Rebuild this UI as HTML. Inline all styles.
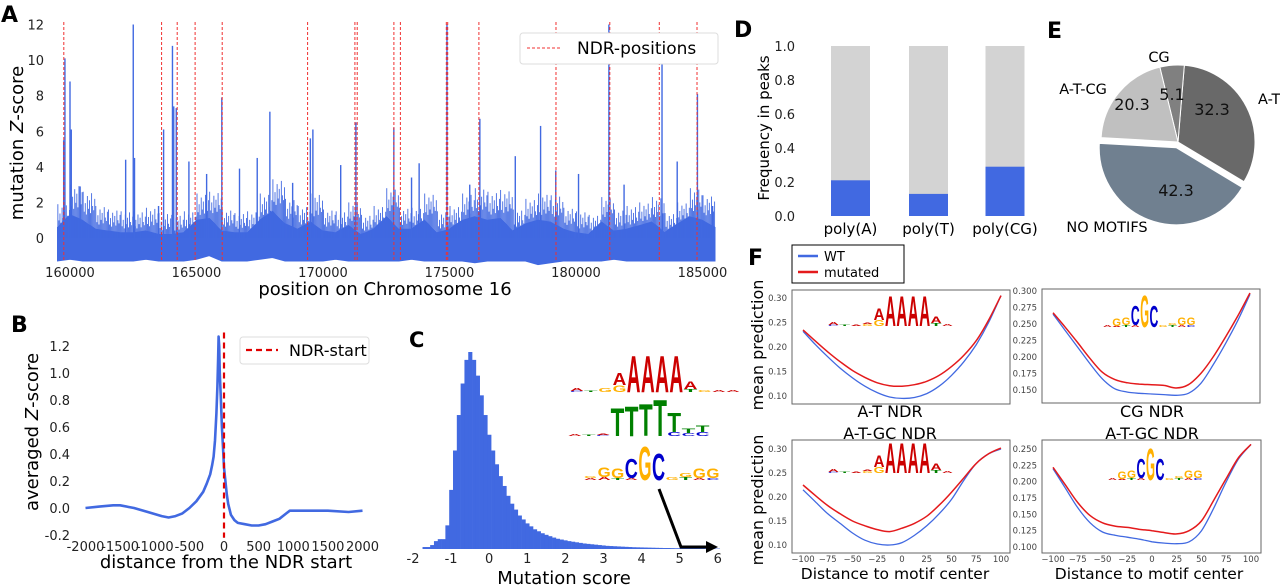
<!DOCTYPE html>
<html>
<head>
<meta charset="utf-8">
<style>
html,body{margin:0;padding:0;background:#fff;}
svg{display:block;font-family:"DejaVu Sans","Liberation Sans",sans-serif;}
</style>
</head>
<body>
<svg id="fig" width="1280" height="587" viewBox="0 0 1280 587" xmlns="http://www.w3.org/2000/svg">
  <text x="1" y="22" font-size="22" font-weight="bold">A</text>
  <text x="11" y="332" font-size="22" font-weight="bold">B</text>
  <text x="409" y="347" font-size="21" font-weight="bold">C</text>
  <text x="734" y="37" font-size="22" font-weight="bold">D</text>
  <text x="1047" y="38" font-size="22" font-weight="bold">E</text>
  <text x="748" y="265" font-size="22" font-weight="bold">F</text>
</svg>
<script>
// ---------- Panel A data ----------
const aTicksX = [160000,165000,170000,175000,180000,185000];
const aTicksY = [0,2,4,6,8,10,12];
const aNdrPositions = [159755,163620,164237,164945,166016,169391,171261,171352,172802,173059,174874,174929,176162,179209,181336,183292,184783];
const aBinStart = 159500;
const aBinStep = 500;
const aBinTops = [1.9,3.0,2.6,1.8,1.6,1.5,1.5,1.7,1.4,1.3,1.5,2.5,2.6,1.6,1.4,1.5,2.5,3.3,2.2,1.8,2.5,1.6,1.5,2.0,1.3,1.8,2.8,1.7,1.7,2.5,1.5,1.8,2.5,2.8,2.6,2.7,1.6,2.2,2.5,2.4,1.7,1.5,1.3,2.3,1.6,1.8,2.0,2.3,1.4,2.0,2.8,2.4,1.8];
const aBinDense = [0.6,1.3,1.0,0.5,0.4,0.3,0.3,0.4,0.2,0.2,0.3,1.0,1.1,0.4,0.3,0.3,1.0,1.5,0.8,0.5,0.9,0.4,0.3,0.7,0.2,0.5,1.2,0.5,0.5,1.0,0.3,0.5,1.0,1.2,1.0,1.1,0.4,0.8,1.0,0.9,0.5,0.3,0.2,0.9,0.4,0.5,0.7,0.9,0.3,0.8,1.2,1.0,0.6];
const aBinLows = [-1.3,-1.2,-1.3,-1.3,-1.3,-1.3,-1.3,-1.2,-1.3,-1.3,-1.3,-1.2,-1.0,-1.3,-1.3,-1.3,-1.2,-1.1,-1.3,-1.3,-1.3,-1.3,-1.2,-1.3,-1.3,-1.3,-1.3,-1.3,-1.2,-1.3,-1.3,-1.3,-1.3,-1.4,-1.3,-1.3,-1.3,-1.3,-1.5,-1.4,-1.3,-1.3,-1.3,-1.3,-1.2,-1.3,-1.3,-1.3,-1.3,-1.3,-1.3,-1.3,-1.3];
const aSpikePos = [159800,159750,160000,160050,160400,162200,162500,162550,163500,163700,164050,164100,164200,164700,165400,166000,166700,167400,167900,168800,169500,169600,170700,171300,172800,173500,173800,174900,175800,176200,177600,178600,179200,180100,181300,181900,183400,184000,184800,185400];
const aSpikeVal = [10.1,5.5,8.8,6.1,2.9,4.4,12,4.5,1.8,6.1,10.8,7.4,7.3,4.3,3.6,7.9,3.9,4.5,7.1,3.1,5.6,6.1,4.1,6.5,6.2,3.4,4.2,12,3.0,6.7,4.6,6.3,3.8,3.6,12,3.0,10,4.3,8.1,1.8];

// ---------- Panel B data ----------
const bTicksX = [-2000,-1500,-1000,-500,0,500,1000,1500,2000];
const bTicksY = [-0.2,0.0,0.2,0.4,0.6,0.8,1.0,1.2];
const bDist = [-2000,-1800,-1600,-1500,-1300,-1100,-900,-800,-700,-600,-500,-400,-300,-250,-200,-170,-150,-130,-110,-95,-85,-78,-70,-60,-45,-30,-15,0,20,40,60,100,150,200,300,400,500,600,700,800,900,950,1000,1200,1500,1800,2000];
const bVal = [0.0,0.01,0.02,0.02,0.0,-0.03,-0.06,-0.07,-0.06,-0.04,0.0,0.05,0.12,0.18,0.25,0.32,0.38,0.5,0.7,0.9,1.1,1.27,1.2,1.0,0.8,0.6,0.45,0.3,0.2,0.1,0.03,-0.05,-0.09,-0.11,-0.12,-0.13,-0.13,-0.12,-0.1,-0.08,-0.04,-0.02,-0.02,-0.02,-0.02,-0.03,-0.02];

// ---------- Panel C data ----------
const cTicksX = [-2,-1,0,1,2,3,4,5,6];
const cBinStart = -1.8;
const cBinWidth = 0.1;
const cCounts = [0,0.01,0.01,0.02,0.04,0.05,0.05,0.12,0.3,0.5,0.68,0.84,0.96,1.0,0.96,0.88,0.78,0.68,0.58,0.5,0.43,0.37,0.32,0.27,0.23,0.2,0.17,0.15,0.13,0.115,0.1,0.09,0.08,0.072,0.065,0.058,0.052,0.048,0.044,0.04,0.037,0.034,0.031,0.028,0.026,0.024,0.022,0.02,0.018,0.016,0.015,0.014,0.013,0.012,0.011,0.01,0.009,0.0085,0.008,0.0075,0.007,0.0065,0.006,0.0055,0.005,0.005,0.0045,0.004,0.004,0.0035,0.003,0.003,0.003,0.0025,0.0025,0.002,0.002,0.002,0.002];

// ---------- Panel D data ----------
const dCategories = ['poly(A)','poly(T)','poly(CG)'];
const dValues = [0.21,0.13,0.29];
const dTicksY = [0.0,0.2,0.4,0.6,0.8,1.0];

// ---------- Panel E data ----------
const eLabels = ['A-T','CG','A-T-CG','NO MOTIFS'];
const eValues = [32.3,5.1,20.3,42.3];

// ---------- Panel F data ----------
const fX = [-100,-87.5,-75,-62.5,-50,-37.5,-25,-12.5,0,12.5,25,37.5,50,62.5,75,87.5,100];
const fTicksX = [-100,-75,-50,-25,0,25,50,75,100];
const f1WT  = [0.232,0.205,0.18,0.157,0.137,0.12,0.107,0.098,0.095,0.097,0.105,0.12,0.142,0.17,0.205,0.25,0.305];
const f1Mut = [0.235,0.212,0.19,0.17,0.152,0.138,0.127,0.121,0.12,0.123,0.13,0.142,0.16,0.183,0.213,0.255,0.305];
const f2WT  = [0.265,0.24,0.215,0.19,0.167,0.152,0.147,0.145,0.144,0.143,0.142,0.145,0.16,0.188,0.22,0.255,0.295];
const f2Mut = [0.267,0.245,0.222,0.198,0.177,0.166,0.161,0.159,0.158,0.157,0.153,0.158,0.175,0.2,0.23,0.262,0.297];
const f3WT  = [0.215,0.19,0.165,0.145,0.125,0.11,0.102,0.1,0.105,0.12,0.14,0.165,0.195,0.235,0.27,0.29,0.3];
const f3Mut = [0.225,0.203,0.182,0.165,0.15,0.14,0.132,0.128,0.135,0.145,0.16,0.183,0.21,0.24,0.27,0.29,0.302];
const f4WT  = [0.22,0.19,0.16,0.137,0.123,0.118,0.115,0.112,0.108,0.106,0.105,0.108,0.125,0.16,0.2,0.235,0.257];
const f4Mut = [0.222,0.195,0.168,0.148,0.137,0.132,0.13,0.127,0.125,0.122,0.12,0.125,0.14,0.172,0.205,0.237,0.257];
const f12Ticks = [0.10,0.15,0.20,0.25,0.30];
const f2Ticks = [0.150,0.175,0.200,0.225,0.250,0.275,0.300];
const f4Ticks = [0.100,0.125,0.150,0.175,0.200,0.225,0.250];

const NS = 'http://www.w3.org/2000/svg';
const svg = document.getElementById('fig');
function mk(tag, attrs, txt){
  const e = document.createElementNS(NS, tag);
  for (const k in attrs) e.setAttribute(k, attrs[k]);
  if (txt !== undefined) e.textContent = txt;
  svg.appendChild(e);
  return e;
}
const BLUE = '#4169e1';
const RED = '#e41a1c';
let e;

// ================= Panel A =================
const xA = v => 70 + (v - 160000) * 0.0253;
const yA = v => 238 - v * 17.79;
{
  let top = [], low = [];
  aBinDense.forEach((t,i)=>{ top.push(xA(aBinStart+i*aBinStep).toFixed(1)+','+yA(t).toFixed(1)); });
  for (let i=aBinLows.length-1;i>=0;i--) low.push(xA(aBinStart+i*aBinStep).toFixed(1)+','+yA(aBinLows[i]).toFixed(1));
  e = mk('polygon',{points: top.concat(low).join(' '), fill: BLUE, stroke: BLUE, 'stroke-width':0.8});
  
  
  const frac = [1,0.3,0.6,0.2,0.85,0.4,0.7,0.25,0.95,0.5,0.35,0.75];
  for (let i=0;i<aBinTops.length-1;i++){
    for (let j=0;j<frac.length;j++){
      const p = aBinStart + i*aBinStep + j*(aBinStep/frac.length) + 20;
      const t = aBinDense[i] + (aBinTops[i]-aBinDense[i]) * frac[j];
      e = mk('line',{x1:xA(p),x2:xA(p),y1:yA(0),y2:yA(t),stroke:BLUE,'stroke-width':0.9});
      
      
    }
  }
  aSpikePos.forEach((p,i)=>{
    e = mk('line',{x1:xA(p),x2:xA(p),y1:yA(0),y2:yA(aSpikeVal[i]),stroke:BLUE,'stroke-width':1.4});
    
    
  });
  aNdrPositions.forEach(p=>{
    e = mk('line',{x1:xA(p),x2:xA(p),y1:22,y2:262,stroke:'#f03030','stroke-width':1,'stroke-dasharray':'3,2'});
    
    
  });
  aTicksY.forEach(v=>{
    e = mk('text',{x:44,y:yA(v)+5,'font-size':13,'text-anchor':'end',fill:'#222'}, String(v));
    
    
  });
  aTicksX.forEach(v=>{
    e = mk('text',{x:xA(v),y:277,'font-size':13,'text-anchor':'middle',fill:'#222'}, String(v));
    
    
  });
  e = mk('text',{x:385,y:295,'font-size':18,'text-anchor':'middle'},'position on Chromosome 16');
  
  
  e = mk('text',{x:0,y:0,'font-size':18,'text-anchor':'middle',transform:'translate(23,143) rotate(-90)'});
  e.innerHTML = 'mutation <tspan font-style="italic">Z</tspan>-score';
  
  
  e = mk('rect',{x:520,y:33,width:198,height:31,rx:3,fill:'#fff',stroke:'#ddd'});
  
  
  e = mk('line',{x1:527,x2:561,y1:48,y2:48,stroke:'#f03030','stroke-width':1,'stroke-dasharray':'3,2'});
  
  
  e = mk('text',{x:577,y:54,'font-size':17},'NDR-positions');
  
  
}

// ================= Panel B =================
const xB = v => 224 + v * 0.06925;
const yB = v => 508 - v * 135;
{
  e = mk('polyline',{points: bDist.map((d,i)=>xB(d).toFixed(1)+','+yB(bVal[i]).toFixed(1)).join(' '),fill:'none',stroke:BLUE,'stroke-width':2.6,'stroke-linejoin':'round'});
  
  
  e = mk('line',{x1:xB(0),x2:xB(0),y1:yB(1.3),y2:yB(-0.22),stroke:'#e00000','stroke-width':2.2,'stroke-dasharray':'6,4'});
  
  
  bTicksY.forEach(v=>{
    e = mk('text',{x:70,y:yB(v)+5,'font-size':13,'text-anchor':'end',fill:'#222'}, v.toFixed(1));
    
    
  });
  bTicksX.forEach(v=>{
    e = mk('text',{x:xB(v),y:551,'font-size':13,'text-anchor':'middle',fill:'#222'}, String(v));
    
    
  });
  e = mk('text',{x:226,y:568,'font-size':18,'text-anchor':'middle'},'distance from the NDR start');
  
  
  e = mk('text',{x:0,y:0,'font-size':18,'text-anchor':'middle',transform:'translate(38,432) rotate(-90)'});
  e.innerHTML = 'averaged <tspan font-style="italic">Z</tspan>-score';
  
  
  e = mk('rect',{x:240,y:337,width:129,height:27,rx:3,fill:'#fff',stroke:'#ddd'});
  
  
  e = mk('line',{x1:246,x2:278,y1:350,y2:350,stroke:'#e00000','stroke-width':2.2,'stroke-dasharray':'6,4'});
  
  
  e = mk('text',{x:289,y:356,'font-size':16},'NDR-start');
  
  
}

// ================= Panel C =================
const xC = v => 413 + (v + 2) * 38.1;
const yC = h => 549 - h * 197;
{
  cCounts.forEach((h,i)=>{
    const x0 = cBinStart + i*cBinWidth - cBinWidth/2;
    e = mk('rect',{x:xC(x0),y:yC(h),width:cBinWidth*38.1+0.3,height:549-yC(h),fill:BLUE});
    
    
  });
  cTicksX.forEach(v=>{
    e = mk('text',{x:xC(v),y:563,'font-size':13,'text-anchor':'middle',fill:'#222'}, String(v));
    
    
  });
  e = mk('text',{x:564,y:584,'font-size':18,'text-anchor':'middle'},'Mutation score');
  
  
  e = mk('polyline',{points:'659,489 681,547 712,547',fill:'none',stroke:'#000','stroke-width':3});
  
  
  e = mk('polygon',{points:'718,547 706,541 706,553',fill:'#000'});
  
  
}

// ================= Sequence logos =================
const LCOL = {A:'#cc0000',C:'#0000cc',G:'#ffb000',T:'#008000'};
function logo(x0, base, colW, cols, name){
  cols.forEach((stack,i)=>{
    let y = base;
    stack.forEach(([ch,h])=>{
      const fs = h/0.73;
      e = mk('text',{x:x0+i*colW,y:y,'font-size':fs.toFixed(2),'font-weight':'bold',fill:LCOL[ch],textLength:(colW-0.5).toFixed(1),lengthAdjust:'spacingAndGlyphs','font-family':'Liberation Sans, sans-serif'}, ch);
      
      
      y -= h;
    });
  });
}
const logoPolyA = [[['C',1],['A',3]],[['T',1]],[['G',4]],[['G',7],['A',13]],[['A',38]],[['A',38]],[['A',38]],[['A',38]],[['T',3],['A',8]],[['G',2]],[['A',2]],[['A',2]]];
const logoPolyT = [[['A',2]],[['T',1]],[['C',1],['A',1]],[['T',29]],[['T',31]],[['T',33]],[['T',38]],[['C',4],['T',20]],[['C',3],['T',5]],[['C',4],['T',7]]];
const logoCG = [[['A',2],['G',2]],[['A',3],['G',10]],[['T',2],['G',10]],[['A',2],['C',20]],[['G',35]],[['C',28]],[['G',3]],[['T',3],['G',4]],[['A',2],['G',10]],[['C',2],['G',10]]];
logo(570, 392, 14.2, logoPolyA, 'c-logo-polya');
logo(568, 436, 14.2, logoPolyT, 'c-logo-polyt');
logo(584, 480, 13.6, logoCG, 'c-logo-cg');

// ================= Panel D =================
const yD = v => 216 - v * 170;
const dCenters = [850.5, 928.5, 1005];
{
  dCategories.forEach((c,i)=>{
    e = mk('rect',{x:dCenters[i]-19.5,y:yD(1),width:39,height:170,fill:'#d3d3d3'});
    
    
    e = mk('rect',{x:dCenters[i]-19.5,y:yD(dValues[i]),width:39,height:216-yD(dValues[i]),fill:BLUE});
    
    
    e = mk('text',{x:dCenters[i],y:234,'font-size':15,'text-anchor':'middle'}, c);
    
    
  });
  dTicksY.forEach(v=>{
    e = mk('text',{x:795,y:yD(v)+5,'font-size':13,'text-anchor':'end',fill:'#222'}, v.toFixed(1));
    
    
  });
  e = mk('text',{x:0,y:0,'font-size':15,'text-anchor':'middle',transform:'translate(769,128) rotate(-90)'},'Frequency in peaks');
  
  
}

// ================= Panel E =================
{
  const cx = 1178, cy = 142, r = 77;
  const colors = ['#696969','#808080','#c0c0c0','#708090'];
  const explode = [0,0,0,6];
  const pctPos = [[1212,115],[1172,100],[1132,110],[1176,196]];
  const lblPos = [[1258,104,'start'],[1159,62,'middle'],[1083,94,'middle'],[1107,232,'middle']];
  const total = eValues.reduce((a,b)=>a+b,0);
  let a0 = -31;
  eValues.forEach((v,i)=>{
    const a1 = a0 + v/total*360;
    const mid = (a0+a1)/2*Math.PI/180;
    const ox = cx + explode[i]*Math.cos(mid), oy = cy - explode[i]*Math.sin(mid);
    const p0 = [ox + r*Math.cos(a0*Math.PI/180), oy - r*Math.sin(a0*Math.PI/180)];
    const p1 = [ox + r*Math.cos(a1*Math.PI/180), oy - r*Math.sin(a1*Math.PI/180)];
    const large = (a1-a0)>180?1:0;
    e = mk('path',{d:`M${ox},${oy} L${p0[0]},${p0[1]} A${r},${r} 0 ${large} 0 ${p1[0]},${p1[1]} Z`,fill:colors[i],stroke:'#fff','stroke-width':1});
    
    
    a0 = a1;
  });
  eValues.forEach((v,i)=>{
    e = mk('text',{x:pctPos[i][0],y:pctPos[i][1],'font-size':16,'text-anchor':'middle',fill:'#111'}, v.toFixed(1));
    
    
    e = mk('text',{x:lblPos[i][0],y:lblPos[i][1],'font-size':14.5,'text-anchor':lblPos[i][2]}, eLabels[i]);
    
    
  });
}

// ================= Panel F =================
function smoothPath(pts){
  let d = 'M'+pts[0][0].toFixed(1)+','+pts[0][1].toFixed(1);
  for (let i=0;i<pts.length-1;i++){
    const p0 = pts[Math.max(0,i-1)], p1 = pts[i], p2 = pts[i+1], p3 = pts[Math.min(pts.length-1,i+2)];
    const c1 = [p1[0]+(p2[0]-p0[0])/6, p1[1]+(p2[1]-p0[1])/6];
    const c2 = [p2[0]-(p3[0]-p1[0])/6, p2[1]-(p3[1]-p1[1])/6];
    d += ` C${c1[0].toFixed(1)},${c1[1].toFixed(1)} ${c2[0].toFixed(1)},${c2[1].toFixed(1)} ${p2[0].toFixed(1)},${p2[1].toFixed(1)}`;
  }
  return d;
}
function subplot(cfg){
  const xf = v => cfg.xa + (v+100)*(cfg.xb-cfg.xa)/200;
  const yf = v => cfg.ya + (v-cfg.va)*(cfg.yb-cfg.ya)/(cfg.vb-cfg.va);
  e = mk('rect',{x:cfg.L,y:cfg.T,width:cfg.R-cfg.L,height:cfg.B-cfg.T,fill:'#fff',stroke:'#666','stroke-width':1});
  
  
  cfg.ticks.forEach(v=>{
    e = mk('text',{x:cfg.L-5,y:yf(v)+3,'font-size':8.5,'text-anchor':'end',fill:'#444'}, v.toFixed(cfg.dec));
    
    
  });
  if (cfg.xlabels){
    fTicksX.forEach(v=>{
      e = mk('text',{x:xf(v),y:cfg.B+9,'font-size':8.5,'text-anchor':'middle',fill:'#444'}, String(v).replace('-','\u2212'));
      
      
    });
  }
  logo(cfg.lx, cfg.lb, cfg.lw, cfg.logo, cfg.name+'-logo');
  e = mk('path',{d:smoothPath(fX.map((x,i)=>[xf(x),yf(cfg.wt[i])])),fill:'none',stroke:BLUE,'stroke-width':1.3});
  
  
  e = mk('path',{d:smoothPath(fX.map((x,i)=>[xf(x),yf(cfg.mut[i])])),fill:'none',stroke:RED,'stroke-width':1.5});
  
  
}
const fLogoA = [[['C',1],['A',3]],[['T',1]],[['A',1]],[['G',2],['A',1]],[['G',6],['A',12]],[['A',31]],[['A',31]],[['A',31]],[['A',31]],[['T',3],['A',7]],[['A',2]]];
const fLogoCG = [[['A',2]],[['A',1],['G',8]],[['T',2],['G',8]],[['A',2],['C',20]],[['G',33]],[['C',22]],[['G',2]],[['T',2],['G',2]],[['A',2],['G',8]],[['C',2],['G',8]]];
subplot({name:'f-at-ndr',L:792,R:1010,T:290,B:404,xa:803,xb:1001,va:0.30,ya:298,vb:0.10,yb:396,ticks:f12Ticks,dec:2,xlabels:false,wt:f1WT,mut:f1Mut,lx:828,lb:326,lw:11.4,logo:fLogoA});
subplot({name:'f-cg-ndr',L:1042,R:1260,T:289,B:403,xa:1053,xb:1250,va:0.300,ya:291,vb:0.150,yb:390,ticks:f2Ticks,dec:3,xlabels:false,wt:f2WT,mut:f2Mut,lx:1103,lb:327,lw:9.3,logo:fLogoCG});
subplot({name:'f-atgc-ndr-a',L:792,R:1010,T:440,B:553,xa:803,xb:1001,va:0.30,ya:449,vb:0.10,yb:545,ticks:f12Ticks,dec:2,xlabels:true,wt:f3WT,mut:f3Mut,lx:828,lb:473,lw:11.4,logo:fLogoA});
subplot({name:'f-atgc-ndr-cg',L:1042,R:1261,T:440,B:553,xa:1053,xb:1251,va:0.250,ya:449,vb:0.100,yb:547,ticks:f4Ticks,dec:3,xlabels:true,wt:f4WT,mut:f4Mut,lx:1108,lb:480,lw:9.5,logo:fLogoCG});
[['A-T NDR',890,417],['CG NDR',1152,417],['A-T-GC NDR',890,439],['A-T-GC NDR',1152,439]].forEach(t=>{
  e = mk('text',{x:t[1],y:t[2],'font-size':16,'text-anchor':'middle'}, t[0]);
  
  
});
[895,1149].forEach(x=>{
  e = mk('text',{x:x,y:579,'font-size':15.5,'text-anchor':'middle'},'Distance to motif center');
  
  
});
[345,500].forEach(y=>{
  e = mk('text',{x:0,y:0,'font-size':16,'text-anchor':'middle',transform:`translate(763,${y}) rotate(-90)`},'mean prediction');
  
  
});
e = mk('rect',{x:792,y:245,width:112,height:38,fill:'#fff',stroke:'#000','stroke-width':1});


e = mk('line',{x1:798,x2:818,y1:256,y2:256,stroke:BLUE,'stroke-width':2.5});


e = mk('text',{x:824,y:261,'font-size':13},'WT');


e = mk('line',{x1:798,x2:818,y1:272,y2:272,stroke:RED,'stroke-width':2.5});


e = mk('text',{x:824,y:277,'font-size':13},'mutated');


</script>
</body>
</html>
